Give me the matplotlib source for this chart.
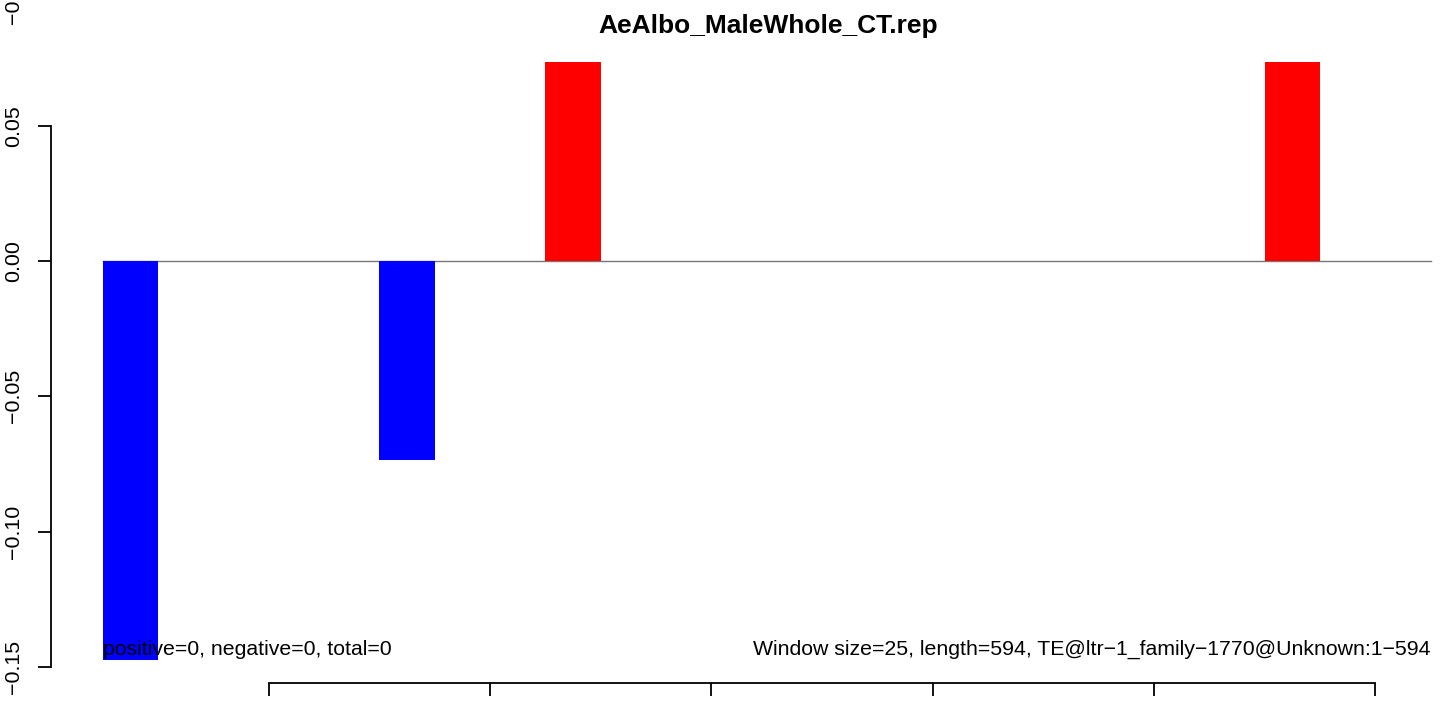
import matplotlib

matplotlib.use("Agg")
import matplotlib.pyplot as plt
import numpy as np

plt.rcParams["font.family"] = ["Liberation Sans", "DejaVu Sans"]

# sliding-window scores, window size 25 bp, 24 windows
window_scores = [
    -0.1475, 0, 0, 0, 0, -0.0737, 0, 0, 0.0737, 0, 0, 0,
    0, 0, 0, 0, 0, 0, 0, 0, 0, 0.0737, 0, 0,
]
x_ticks = [3, 7, 11, 15, 19, 23]
y_ticks = [0.05, 0.00, -0.05, -0.10, -0.15]
y_ticklabels = ["0.05", "0.00", "\u22120.05", "\u22120.10", "\u22120.15"]
title = "AeAlbo_MaleWhole_CT.rep"
left_note = "positive=0, negative=0, total=0"
right_note = "Window size=25, length=594, TE@ltr\u22121_family\u22121770@Unknown:1\u2212594"

W, H = 1449, 702
fig = plt.figure(figsize=(W / 100, H / 100), dpi=100)
# plot region (pixels): x 51..1485, y 38..683 -- runs off the right edge like the source
ax = fig.add_axes([51 / W, (H - 682.6) / H, (1485 - 51) / W, (682.6 - 38.3) / H])

x0, x1 = -0.935, 24.985
vals = np.array(window_scores)
xpos = np.arange(len(vals))
colors = np.where(vals > 0, "#ff0000", "#0000ff")
ax.axhline(0, xmin=(0 - x0) / (x1 - x0), xmax=(24 - x0) / (x1 - x0),
           color="#777777", lw=1.0, zorder=1)
ax.bar(xpos, vals, width=1.0, align="edge", color=colors, linewidth=0, zorder=2)

ax.set_xlim(x0, x1)
ax.set_ylim(-0.1558, 0.0823)

ax.spines["top"].set_visible(False)
ax.spines["right"].set_visible(False)
ax.spines["left"].set_bounds(-0.15, 0.05)
ax.spines["bottom"].set_bounds(3, 23)
for s in ("left", "bottom"):
    ax.spines[s].set_linewidth(1.3)

ax.set_xticks(x_ticks)
ax.set_xticklabels([])
ax.set_yticks(y_ticks)
ax.set_yticklabels(y_ticklabels, rotation=90, va="center", fontsize=15.4)
ax.tick_params(axis="both", direction="out", length=9.4, width=1.3)
ax.tick_params(axis="y", pad=11)

ax.set_title(title, fontsize=19, fontweight="bold", pad=3.8)

ax.text(0, -0.1437, left_note, ha="left", va="center", fontsize=15.3, zorder=3)
ax.text(24, -0.1437, right_note, ha="right", va="center", fontsize=15.3, zorder=3)

# clipped label fragment at the very top-left of the source image
fig.text(13 / W, 1 - 12 / H, "\u22120", rotation=90, ha="center", va="center", fontsize=15.4)

fig.savefig("out.png", dpi=100)
